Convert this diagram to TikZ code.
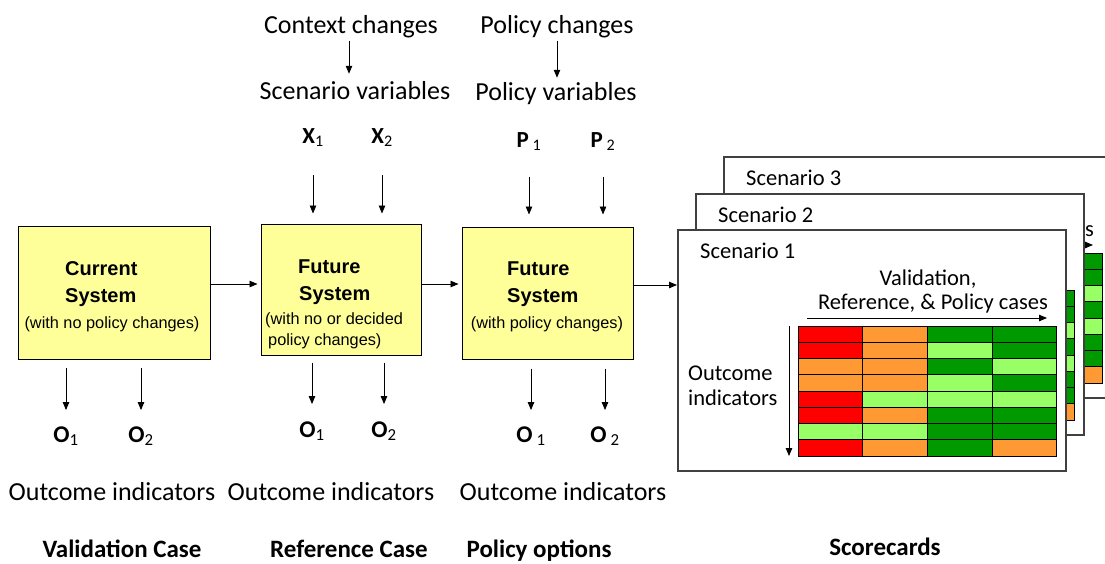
\documentclass[tikz,border=0pt]{standalone}
\usepackage{fontspec}
\setmainfont{Carlito}
\newfontfamily\boxfont{Liberation Sans}
\usetikzlibrary{arrows.meta}
\definecolor{cyel}{HTML}{FFFF99}
\definecolor{cred}{HTML}{FF0000}
\definecolor{corg}{HTML}{FF9933}
\definecolor{cdg}{HTML}{009900}
\definecolor{clg}{HTML}{99FF66}
\tikzset{
  arr/.style={-{Triangle[length=8pt,width=6.5pt]}, line width=0.9pt},
  sysbox/.style={draw, fill=cyel, line width=1pt, inner sep=0pt},
  lbl/.style={font=\fontsize{26}{30}\selectfont, inner sep=0pt, anchor=base},
  casel/.style={font=\fontsize{25}{30}\selectfont\bfseries, inner sep=0pt, anchor=base},
  var/.style={font=\fontsize{23}{27}\selectfont\bfseries, inner sep=0pt, anchor=base},
  outv/.style={font=\fontsize{24}{28}\selectfont\bfseries, inner sep=0pt, anchor=base},
  btitle/.style={font=\boxfont\fontsize{20}{23}\selectfont\bfseries, inner sep=0pt, anchor=base west},
  bsub/.style={font=\boxfont\fontsize{16.3}{19}\selectfont, inner sep=0pt, anchor=base},
  ctext/.style={font=\fontsize{22.5}{26}\selectfont, inner sep=0pt, anchor=base},
  cell/.style={draw=black, line width=1pt},
  cardframe/.pic={
    \draw[fill=white, draw=black!75, line width=1.2pt] (0,0) rectangle (388,241);
    \coordinate (-in) at (0,55);
    \node[ctext, anchor=base west] (-title) at (22,28) {Scenario #1};
    \coordinate (-ha) at (129,88);
    \coordinate (-hb) at (369,88);
    \draw[arr] (-ha) -- (-hb);
    \foreach \r/\a/\b/\c/\d in {0/cred/corg/cdg/cdg, 1/cred/corg/clg/cdg,
        2/corg/corg/cdg/clg, 3/corg/corg/clg/cdg, 4/cred/clg/clg/clg,
        5/cred/corg/cdg/cdg, 6/clg/clg/cdg/cdg, 7/cred/corg/cdg/corg} {
      \draw[cell, fill=\a] (120,{96+\r*16.25}) rectangle (184,{96+(\r+1)*16.25});
      \draw[cell, fill=\b] (184,{96+\r*16.25}) rectangle (249,{96+(\r+1)*16.25});
      \draw[cell, fill=\c] (249,{96+\r*16.25}) rectangle (314,{96+(\r+1)*16.25});
      \draw[cell, fill=\d] (314,{96+\r*16.25}) rectangle (378,{96+(\r+1)*16.25});
    }
  },
  backcard/.pic={
    \pic {cardframe=#1};
    \node[ctext, anchor=base east] (-v2) at (370,79) {cases};
  },
  card/.pic={
    \pic {cardframe=#1};
    \node[ctext] (-v1) at (250,55) {Validation,};
    \node[ctext, anchor=base east] (-v2) at (370,79) {Reference, \& Policy cases};
    \coordinate (-va) at (111,96);
    \coordinate (-vb) at (111,226);
    \draw[arr] (-va) -- (-vb);
    \node[ctext, anchor=base west] (-o1) at (10,150) {Outcome};
    \node[ctext, anchor=base west] (-o2) at (10,175) {indicators};
  }
}
\begin{document}
\begin{tikzpicture}[x=1pt,y=-1pt]
\useasboundingbox (0,0) rectangle (1105,563);
\clip (0,0) rectangle (1105,563);

% system boxes
\node[sysbox, minimum width=192pt, minimum height=133pt] (cur) at (114,292.5) {};
\node[sysbox, minimum width=160pt, minimum height=131pt] (fut) at (341,289.5) {};
\node[sysbox, minimum width=171pt, minimum height=132pt] (pol) at (547.5,293) {};

\node[btitle] (cur-t1) at (65,275) {Current};
\node[btitle] (cur-t2) at (65,302) {System};
\node[bsub] (cur-t3) at (112,328) {(with no policy changes)};

\node[btitle] (fut-t1) at (298,273) {Future};
\node[btitle] (fut-t2) at (299,300) {System};
\node[bsub, anchor=base west] (fut-t3) at (265,324) {(with no or decided};
\node[bsub, anchor=base west] (fut-t4) at (268,345) {policy changes)};

\node[btitle] (pol-t1) at (507,275) {Future};
\node[btitle] (pol-t2) at (507,302) {System};
\node[bsub] (pol-t3) at (547,328) {(with policy changes)};

% scorecards
\pic (s3) at (724,157) {backcard=3};
\pic (s2) at (696,194) {backcard=2};
\pic (s1) at (678,230) {card=1};

% horizontal flow
\coordinate (row) at (0,284);
\draw[arr, shorten >=3pt] (cur.east |- row) -- (fut.west |- row);
\draw[arr, shorten >=3pt] (fut.east |- row) -- (pol.west |- row);
\draw[arr, shorten >=1pt] (pol.east |- s1-in) -- (s1-in);

% top labels
\node[lbl] (ctx) at (351,33) {Context changes};
\node[lbl] (scv) at (355,99) {Scenario variables};
\node[lbl] (pch) at (557,33) {Policy changes};
\node[lbl] (pvr) at (556,100) {Policy variables};
\draw[arr, shorten <=3pt, shorten >=7pt] ([xshift=-2pt]ctx.south) -- ([xshift=-2pt]ctx.south |- scv.north);
\draw[arr, shorten <=3pt, shorten >=4pt] (pch.south) -- (pch.south |- pvr.north);

% input variables
\node[var] (x1) at (313,143) {X{\mdseries\textsubscript{1}}};
\node[var] (x2) at (382,143) {X{\mdseries\textsubscript{2}}};
\node[var] (p1) at (529,147) {P\,{\mdseries\textsubscript{1}}};
\node[var] (p2) at (603,147) {P\,{\mdseries\textsubscript{2}}};
\draw[arr, shorten <=28pt, shorten >=10pt] (x1.south) -- (x1.south |- fut.north);
\draw[arr, shorten <=28pt, shorten >=10pt] (x2.south) -- (x2.south |- fut.north);
\draw[arr, shorten <=26pt, shorten >=12pt] (p1.south) -- (p1.south |- pol.north);
\draw[arr, shorten <=26pt, shorten >=12pt] (p2.south) -- (p2.south |- pol.north);

% outcomes
\node[outv] (o11) at (66,442) {O{\mdseries\textsubscript{1}}};
\node[outv] (o12) at (141,442) {O{\mdseries\textsubscript{2}}};
\node[outv] (o21) at (312,437) {O{\mdseries\textsubscript{1}}};
\node[outv] (o22) at (384,437) {O{\mdseries\textsubscript{2}}};
\node[outv] (o31) at (531,442) {O\,{\mdseries\textsubscript{1}}};
\node[outv] (o32) at (605,442) {O\,{\mdseries\textsubscript{2}}};
\draw[arr, shorten <=8pt, shorten >=16pt] (cur.south -| o11) -- (o11.north);
\draw[arr, shorten <=8pt, shorten >=16pt] (cur.south -| o12) -- (o12.north);
\draw[arr, shorten <=7pt, shorten >=17pt] (fut.south -| o21) -- (o21.north);
\draw[arr, shorten <=7pt, shorten >=17pt] (fut.south -| o22) -- (o22.north);
\draw[arr, shorten <=9pt, shorten >=16pt] (pol.south -| o31) -- (o31.north);
\draw[arr, shorten <=9pt, shorten >=16pt] (pol.south -| o32) -- (o32.north);

\node[lbl] (oi1) at (112,500) {Outcome indicators};
\node[lbl] (oi2) at (331,500) {Outcome indicators};
\node[lbl] (oi3) at (563,500) {Outcome indicators};

\node[casel] (c1) at (122,557) {Validation Case};
\node[casel] (c2) at (349,557) {Reference Case};
\node[casel] (c3) at (539,557) {Policy options};
\node[casel] (c4) at (885,555) {Scorecards};
\end{tikzpicture}
\end{document}
